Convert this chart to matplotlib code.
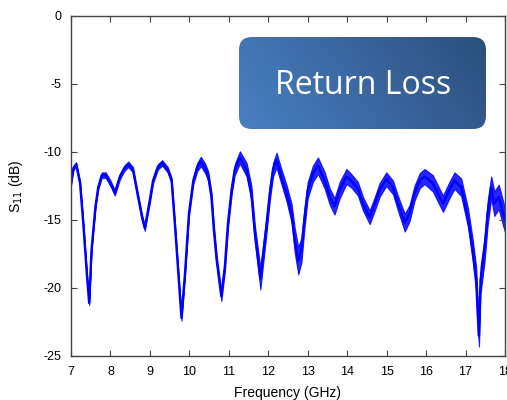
import numpy as np
import matplotlib.pyplot as plt
from matplotlib.patches import FancyBboxPatch

# S11 trace (centre of the trace) and the half-width of its noisy band (dB)
freq = [7.00, 7.06, 7.13, 7.23, 7.31, 7.40, 7.46, 7.52, 7.62, 7.69, 7.78, 7.88, 8.00, 8.11, 8.24,
        8.35, 8.45, 8.57, 8.70, 8.80, 8.87, 9.00, 9.08, 9.20, 9.31, 9.45, 9.55, 9.63, 9.72,
        9.80, 9.89, 9.99, 10.10, 10.20, 10.29, 10.40, 10.48, 10.56, 10.62, 10.69, 10.81, 10.90,
        10.98, 11.07, 11.15, 11.28, 11.45, 11.57, 11.66, 11.74, 11.80, 11.87, 11.95, 12.04,
        12.12, 12.21, 12.33, 12.46, 12.59, 12.67, 12.76, 12.84, 12.92, 13.00, 13.13, 13.26,
        13.43, 13.56, 13.68, 13.81, 13.98, 14.10, 14.27, 14.40, 14.57, 14.70, 14.82, 14.99,
        15.16, 15.29, 15.46, 15.58, 15.71, 15.84, 15.96, 16.17, 16.34, 16.43, 16.59, 16.72,
        16.89, 17.06, 17.18, 17.27, 17.31, 17.34, 17.38, 17.48, 17.56, 17.65, 17.73, 17.84,
        17.95, 18.00]
s11 = [-12.3, -11.2, -10.9, -12.3, -15.2, -18.9, -21.1, -17.2, -14.0, -12.6, -11.7, -11.7, -12.3, -13.0, -11.8,
       -11.2, -10.9, -11.3, -13.3, -14.8, -15.6, -13.5, -12.1, -11.1, -10.8, -11.3, -12.1, -15.2, -18.9,
       -22.2, -18.9, -14.5, -12.1, -11.1, -10.7, -11.2, -11.8, -13.3, -15.7, -17.9, -20.6, -18.4,
       -15.2, -12.8, -11.3, -10.4, -11.3, -13.0, -16.0, -17.9, -19.3, -17.5, -15.5, -13.0,
       -11.3, -10.6, -11.8, -13.0, -14.5, -16.5, -18.0, -17.2, -14.8, -12.8, -11.6, -11.0,
       -12.1, -13.3, -14.0, -12.8, -11.8, -12.1, -12.7, -13.8, -14.8, -13.8, -12.8, -12.0,
       -12.6, -13.8, -15.2, -14.5, -13.0, -12.1, -11.8, -12.3, -13.3, -13.8, -12.8, -12.1,
       -12.6, -14.8, -17.2, -19.4, -22.0, -23.5, -19.4, -17.2, -14.5, -12.6, -13.8, -13.3,
       -14.5, -15.0]
spread = [0.15, 0.15, 0.15, 0.15, 0.15, 0.15, 0.15, 0.15, 0.15, 0.15, 0.2, 0.2, 0.2, 0.2, 0.2,
          0.2, 0.2, 0.2, 0.2, 0.2, 0.2, 0.2, 0.2, 0.2, 0.2, 0.2, 0.2, 0.2, 0.2,
          0.2, 0.2, 0.2, 0.25, 0.3, 0.35, 0.35, 0.35, 0.35, 0.35, 0.35, 0.35, 0.35,
          0.35, 0.35, 0.4, 0.45, 0.5, 0.55, 0.6, 0.7, 0.8, 0.7, 0.6, 0.55,
          0.5, 0.55, 0.55, 0.6, 0.7, 0.9, 1.0, 0.9, 0.7, 0.6, 0.6, 0.6,
          0.6, 0.6, 0.6, 0.6, 0.55, 0.5, 0.5, 0.5, 0.5, 0.5, 0.5, 0.5,
          0.5, 0.55, 0.65, 0.6, 0.55, 0.55, 0.55, 0.6, 0.6, 0.6, 0.6, 0.6,
          0.65, 0.7, 0.8, 0.9, 1.0, 0.8, 1.0, 0.9, 0.9, 0.8, 0.9, 0.9,
          0.9, 0.9]

xticks = list(range(7, 19))
yticks = [0, -5, -10, -15, -20, -25]

plt.rcParams['font.family'] = ['Liberation Sans', 'DejaVu Sans']
plt.rcParams['axes.unicode_minus'] = False

fig = plt.figure(figsize=(5.07, 4.0), dpi=100)
ax = fig.add_axes([71 / 507, 44 / 400, 434 / 507, 340 / 400])

f = np.array(freq)
s = np.array(s11)
w = np.array(spread)
ax.fill_between(f, s - w, s + w, color='#0000ff', lw=0.8, alpha=0.85)
ax.plot(f, s, color='#0000ff', lw=1.7)

ax.set_xlim(7, 18)
ax.set_ylim(-25, 0)
ax.set_xticks(xticks)
ax.set_yticks(yticks)
ax.tick_params(direction='in', length=4, width=0.8, top=True, right=True,
               labelsize=9, color='#444444', pad=7)
for sp in ax.spines.values():
    sp.set_color('#444444')
    sp.set_linewidth(1.0)
ax.set_xlabel('Frequency (GHz)', fontsize=10, labelpad=6)
ax.set_ylabel('S$_{11}$ (dB)', fontsize=10, labelpad=13)

# "Return Loss" rounded box with a diagonal gradient, in pixel coordinates
ov = fig.add_axes([0, 0, 1, 1], facecolor='none')
ov.set_xlim(0, 507)
ov.set_ylim(400, 0)
ov.axis('off')
x0, y0, x1, y1 = 239, 37, 486, 129
box = FancyBboxPatch((x0 + 13, y0 + 13), (x1 - x0) - 26, (y1 - y0) - 26,
                     boxstyle='round,pad=13', fc='none', ec='none')
ov.add_patch(box)
gx, gy = np.meshgrid(np.linspace(0, 1, 200), np.linspace(0, 1, 80))
t = np.clip(0.8 * gx + 0.2 * (1 - gy), 0, 1)
c_light = np.array([0x49, 0x80, 0xc3]) / 255
c_dark = np.array([0x2c, 0x4f, 0x7d]) / 255
grad = c_light[None, None, :] * (1 - t[..., None]) + c_dark[None, None, :] * t[..., None]
im = ov.imshow(grad, extent=(x0, x1, y1, y0), aspect='auto', origin='upper')
im.set_clip_path(box)
ov.text((x0 + x1) / 2 + 0.5, 86, 'Return Loss', color='white', fontsize=23,
        family=['Open Sans', 'DejaVu Sans'], ha='center', va='center')

fig.savefig('out.png', dpi=100)
